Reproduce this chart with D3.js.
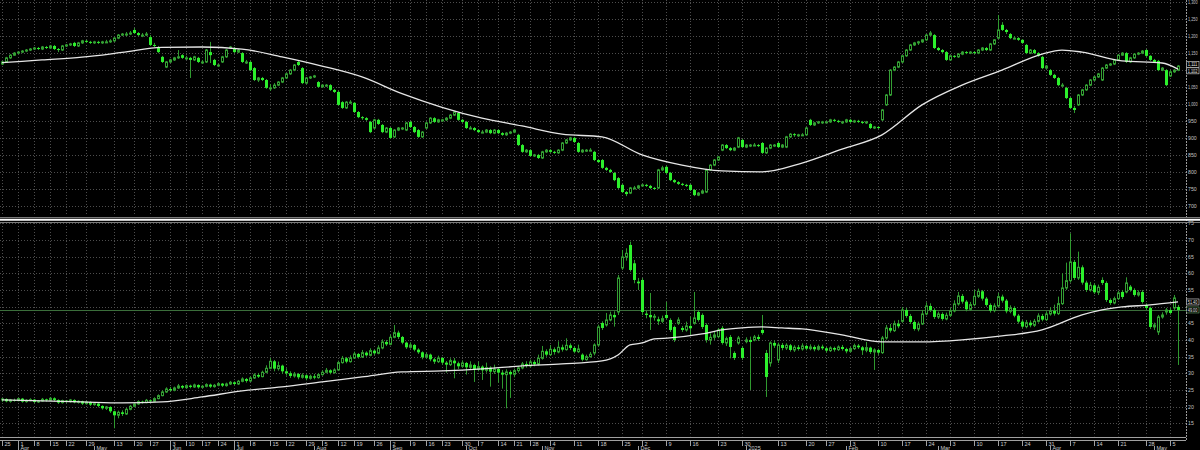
<!DOCTYPE html>
<html><head><meta charset="utf-8">
<script src="https://cdn.jsdelivr.net/npm/d3@7"></script>
<style>html,body{margin:0;padding:0;background:#000;overflow:hidden}svg{display:block}</style>
</head><body><svg id="c" width="1200" height="450"></svg>
<script>
// ---------- DATA ----------
const topOpen = [
1117,1123,1135,1143,1149,1152,1155,1158,1161,1164,
1161,1167,1164,1170,1161,1158,1170,1173,1179,1170,
1179,1185,1182,1179,1182,1179,1182,1182,1185,1193,
1202,1205,1205,1217,1208,1202,1202,1196,1173,1167,
1138,1108,1123,1129,1135,1143,1135,1135,1129,1135,
1123,1123,1152,1129,1114,1123,1138,1164,1164,1152,
1149,1123,1123,1105,1070,1076,1070,1047,1047,1055,
1064,1076,1088,1099,1123,1105,1061,1076,1079,1064,
1050,1055,1055,1041,1035,1005,988,1005,1003,976,
961,958,947,929,953,938,917,929,903,923,
929,923,947,932,923,903,929,944,958,947,
953,953,958,967,973,953,947,929,929,923,
917,917,923,914,923,914,909,914,917,909,
879,859,864,847,850,841,859,864,859,856,
864,885,894,900,885,859,864,864,859,835,
835,812,806,797,782,762,741,738,753,753,
759,762,759,753,753,806,815,797,776,770,
765,762,762,747,732,738,741,806,820,835,
864,879,870,864,873,894,873,879,879,879,
885,856,870,879,885,873,873,903,911,909,
909,909,953,938,944,947,947,947,953,950,
947,947,953,947,950,947,944,941,929,932,
953,997,1026,1099,1108,1123,1141,1158,1173,1179,
1182,1188,1202,1202,1164,1158,1152,1129,1141,1138,
1146,1152,1149,1152,1149,1158,1164,1158,1176,1193,
1232,1217,1205,1193,1193,1188,1173,1149,1158,1149,
1138,1105,1099,1085,1076,1055,1047,1017,988,997,
1026,1041,1055,1070,1079,1070,1105,1114,1117,1129,
1143,1149,1123,1135,1146,1149,1158,1141,1129,1126,
1099,1099,1082,1094,1099];
const topHigh = [
1126,1138,1146,1152,1155,1158,1161,1164,1167,1167,
1170,1170,1173,1173,1164,1173,1176,1179,1182,1182,
1188,1188,1185,1185,1185,1185,1188,1190,1196,1205,
1208,1211,1214,1223,1211,1208,1211,1202,1179,1170,
1141,1126,1132,1138,1158,1146,1141,1138,1141,1138,
1129,1161,1182,1132,1117,1141,1161,1170,1167,1161,
1152,1129,1126,1108,1079,1079,1073,1058,1061,1067,
1079,1091,1102,1117,1126,1108,1079,1082,1085,1067,
1058,1058,1058,1044,1038,1008,1008,1011,1005,979,
964,961,950,956,956,941,932,932,926,932,
932,947,950,935,926,920,947,961,961,956,
956,961,970,979,976,956,950,935,932,926,
923,926,926,926,926,917,917,920,926,912,
882,867,867,853,853,862,867,867,862,867,
888,897,903,903,888,867,867,870,862,838,
838,815,809,800,785,765,744,756,759,762,
765,765,762,756,809,818,818,800,779,773,
768,765,765,750,741,747,809,823,838,847,
882,882,873,873,903,897,882,882,885,882,
888,873,882,882,888,882,906,914,914,912,
914,932,956,947,950,950,950,956,956,953,
950,956,956,953,953,950,950,944,935,935,
985,1029,1102,1111,1126,1143,1161,1176,1182,1185,
1190,1205,1214,1205,1167,1161,1155,1143,1143,1149,
1155,1155,1155,1155,1161,1167,1167,1179,1190,1261,
1240,1220,1208,1199,1196,1190,1176,1161,1161,1152,
1141,1114,1102,1088,1079,1061,1050,1020,994,1029,
1044,1058,1073,1082,1091,1108,1117,1120,1132,1146,
1152,1152,1138,1149,1152,1158,1161,1143,1132,1129,
1108,1102,1099,1102,1114];
const topLow = [
1114,1120,1132,1141,1146,1149,1152,1155,1158,1158,
1158,1161,1161,1158,1152,1155,1167,1170,1167,1167,
1176,1179,1176,1176,1176,1176,1179,1179,1182,1190,
1199,1199,1202,1205,1199,1196,1199,1170,1167,1149,
1120,1105,1120,1126,1132,1132,1129,1076,1126,1120,
1117,1120,1120,1111,1108,1120,1135,1161,1149,1149,
1120,1117,1096,1067,1064,1067,1044,1038,1044,1052,
1061,1073,1085,1096,1111,1058,1058,1073,1076,1047,
1047,1050,1038,1032,994,985,985,1000,973,958,
953,950,914,926,938,914,914,897,900,920,
923,920,929,914,900,900,926,941,944,944,
947,950,955,964,950,944,926,926,920,914,
914,914,911,911,911,906,906,911,914,876,
856,856,844,844,838,838,856,856,853,853,
861,882,891,885,856,856,859,861,832,826,
809,803,797,773,750,738,729,735,750,750,
756,756,750,747,750,803,794,773,767,762,
759,756,744,729,729,735,738,803,817,832,
861,867,861,861,870,870,870,873,876,873,
853,853,867,873,870,870,870,900,903,903,
906,906,935,935,941,941,944,944,947,944,
941,944,944,944,944,941,941,926,926,926,
950,994,1023,1096,1105,1120,1138,1155,1170,1173,
1179,1185,1199,1161,1155,1149,1126,1126,1135,1135,
1143,1146,1146,1146,1146,1155,1155,1155,1173,1190,
1214,1205,1190,1190,1185,1176,1146,1146,1146,1138,
1102,1102,1082,1073,1052,1050,1014,985,973,994,
1023,1038,1052,1067,1076,1067,1102,1111,1114,1126,
1141,1120,1120,1132,1143,1146,1138,1126,1120,1096,
1096,1052,1079,1091,1096];
const topClose = [
1123,1135,1143,1149,1152,1155,1158,1161,1164,1161,
1167,1164,1170,1161,1158,1170,1173,1176,1170,1179,
1185,1182,1179,1182,1179,1182,1182,1185,1193,1202,
1205,1205,1208,1208,1202,1202,1205,1173,1170,1152,
1123,1123,1129,1135,1138,1135,1135,1129,1138,1123,
1123,1158,1143,1114,1114,1138,1158,1167,1152,1158,
1123,1123,1099,1070,1076,1070,1047,1047,1055,1064,
1076,1088,1099,1114,1114,1061,1076,1079,1082,1050,
1055,1055,1041,1035,997,988,1005,1005,976,961,
958,953,917,953,941,917,929,900,923,929,
929,944,932,917,903,917,944,958,947,953,
953,958,967,976,953,947,929,929,923,917,
917,923,914,923,914,909,914,917,923,879,
859,864,847,850,841,859,864,859,856,864,
885,894,900,888,859,864,864,864,835,829,
812,806,800,776,753,741,735,753,753,759,
762,759,753,750,806,812,797,776,770,765,
762,759,747,732,738,744,806,820,835,844,
879,870,864,870,900,873,879,879,879,876,
856,870,879,879,873,879,903,911,909,909,
909,929,938,944,947,947,947,953,950,947,
947,953,947,950,947,944,947,929,932,929,
982,1026,1099,1108,1123,1141,1158,1173,1179,1182,
1188,1202,1208,1164,1158,1152,1129,1141,1138,1146,
1152,1149,1152,1149,1158,1164,1158,1176,1188,1217,
1217,1211,1193,1193,1188,1179,1149,1158,1149,1141,
1105,1111,1085,1076,1055,1055,1017,988,982,1026,
1041,1055,1070,1079,1088,1105,1114,1117,1129,1143,
1149,1123,1135,1146,1149,1155,1141,1129,1123,1099,
1105,1055,1094,1099,1111];
const topMaIdx = [0,10,20,30,40,50,60,70,80,90,100,110,120,130,140,150,160,170,180,190,200,210,220,230,240,250,260,265,270,280,290,294];
const topMa = [1121,1129,1137,1151,1166,1167,1161,1138,1111,1079,1030,990,958,935,911,903,850,820,803,800,826,867,909,997,1055,1099,1146,1158,1152,1126,1120,1102];

const botOpen = [
22.0,22.3,21.6,22.0,21.8,22.4,21.5,21.9,22.1,21.4,
21.7,22.2,21.9,22.5,22.0,21.2,21.8,21.5,22.0,21.3,
21.6,20.9,21.4,20.6,20.9,20.2,19.5,19.9,18.6,17.4,
18.3,17.8,19.2,20.1,20.8,21.5,21.2,21.9,21.6,22.4,
23.3,24.4,25.3,24.9,25.6,26.2,25.7,26.3,25.9,26.5,
25.8,26.1,26.6,26.0,26.4,26.9,26.3,26.8,27.3,26.8,
27.6,28.3,27.7,28.6,29.5,29.0,30.3,31.5,33.6,31.4,
32.3,30.6,30.0,29.2,29.8,28.8,29.4,28.5,29.1,28.7,
29.6,30.3,30.9,30.2,31.0,33.2,34.5,33.5,34.6,35.8,
34.9,36.2,35.4,36.8,36.0,37.6,39.4,38.7,40.8,42.2,
40.9,39.2,37.8,38.5,37.1,36.3,34.8,35.6,34.2,33.5,
34.6,33.2,32.6,33.8,33.0,32.1,33.1,31.8,32.5,31.2,
32.0,30.9,31.7,30.5,31.3,30.2,29.6,30.4,29.7,30.8,
31.6,32.8,32.2,33.4,32.7,34.5,36.6,35.6,37.2,36.4,
37.8,37.1,38.4,37.6,36.5,35.6,34.1,35.0,36.1,38.5,
45.1,44.5,46.0,47.5,48.4,61.6,64.9,68.5,63.0,57.5,
58.0,47.9,47.5,46.9,46.2,45.6,47.5,46.0,43.9,45.0,
43.6,43.0,44.2,45.0,48.4,47.5,44.5,40.0,40.8,41.0,
43.6,39.1,40.9,36.1,39.1,37.6,39.5,40.0,40.0,40.9,
43.0,36.1,33.1,39.1,34.0,38.5,37.6,38.4,37.0,37.8,
37.3,38.2,37.4,37.9,37.2,38.0,37.5,36.8,37.6,37.1,
37.9,37.3,36.6,37.4,38.3,37.8,36.9,37.7,36.4,37.0,
36.2,40.6,43.6,42.8,44.9,45.6,49.0,47.2,45.4,43.3,
44.8,47.8,50.2,49.0,46.9,47.8,46.3,47.4,48.7,50.8,
53.2,51.5,49.2,50.6,53.1,54.6,52.4,50.5,48.8,50.2,
53.0,51.8,48.6,49.6,47.3,45.5,44.0,45.2,44.4,45.6,
47.2,46.1,47.8,48.7,47.9,50.9,55.6,57.8,63.4,58.6,
61.8,57.2,55.0,56.4,54.3,58.0,57.1,52.0,51.1,52.4,
54.4,54.4,56.0,55.0,53.5,54.4,50.5,49.6,43.9,42.4,
46.9,48.4,49.0,49.6,49.9];
const botHigh = [
22.6,22.5,22.3,22.4,22.7,22.6,22.2,22.5,22.3,22.0,
22.6,22.4,22.9,22.8,22.2,22.1,22.0,22.3,22.2,21.9,
21.8,21.7,21.6,21.2,21.1,20.4,20.2,20.1,18.8,18.8,
18.9,19.6,20.5,21.2,21.9,21.8,22.3,22.2,22.8,23.7,
24.9,25.8,25.9,26.0,26.8,26.5,26.7,26.6,26.9,26.7,
26.5,27.0,26.9,26.8,27.3,27.1,27.2,27.7,27.6,28.0,
28.8,28.6,29.1,30.0,30.1,30.8,32.4,34.6,34.0,33.5,
32.6,31.5,30.6,30.4,30.1,30.0,29.7,29.6,29.8,30.1,
30.9,31.6,31.2,31.5,33.8,35.2,34.9,35.4,36.5,36.1,
37.0,36.6,37.5,37.1,38.4,40.2,40.0,41.6,44.5,42.8,
41.2,39.5,39.3,38.8,37.5,36.6,36.2,35.9,34.7,35.3,
34.9,33.7,34.5,34.6,33.5,33.9,33.4,33.6,32.9,33.5,
32.4,33.2,32.1,32.6,31.7,31.0,31.2,30.9,31.4,32.2,
33.4,33.6,34.1,33.9,35.6,38.2,37.2,38.5,37.8,39.6,
38.6,40.5,39.0,38.1,38.6,36.0,35.6,36.4,39.0,44.6,
45.6,48.1,48.5,48.6,59.5,67.0,67.5,69.5,64.0,58.6,
58.6,48.8,54.1,47.8,47.0,47.3,51.4,46.5,44.3,46.8,
44.2,45.5,47.0,54.4,49.0,48.0,45.0,42.0,42.7,43.6,
44.2,41.0,41.5,36.6,41.2,38.2,40.8,41.0,41.5,41.6,
47.5,37.0,39.6,39.9,39.2,39.1,39.0,38.8,38.4,38.5,
39.0,38.6,38.7,38.4,38.6,38.6,37.9,38.1,38.0,38.4,
38.5,37.7,37.9,38.9,38.8,38.2,39.4,38.0,37.5,37.4,
41.2,44.5,44.8,45.8,46.0,49.9,49.6,47.8,45.9,45.5,
49.0,51.3,51.0,49.5,48.5,48.3,48.2,49.6,51.9,54.4,
53.8,52.0,51.4,55.0,55.4,55.0,52.9,51.0,51.0,54.1,
53.6,52.3,50.4,50.1,47.8,46.0,46.0,45.9,46.3,48.0,
47.8,48.6,49.8,50.6,53.0,60.0,63.2,72.0,64.0,66.5,
62.4,57.8,57.4,57.0,56.6,58.8,57.6,52.5,53.0,54.8,
55.0,58.8,56.5,55.5,54.9,55.0,51.0,50.0,45.2,47.5,
48.3,49.6,49.6,53.5,50.5];
const botLow = [
21.4,21.3,21.2,21.5,21.6,21.2,21.2,21.6,21.0,21.1,
21.5,21.5,21.7,21.6,20.8,20.9,21.1,21.2,21.0,20.9,
20.5,20.6,20.2,20.3,19.8,19.1,19.0,18.1,13.5,16.5,
17.2,17.5,18.9,19.8,20.5,20.9,21.0,21.3,21.4,22.2,
23.1,24.1,24.5,24.6,25.3,25.3,25.4,25.5,25.6,25.4,
25.5,25.8,25.6,25.7,26.1,25.9,26.0,26.5,26.4,26.5,
27.3,27.2,27.4,28.3,28.6,28.8,30.0,31.2,30.6,30.8,
29.8,29.3,28.6,28.7,28.2,28.4,27.9,28.1,28.2,28.4,
29.3,30.0,29.7,29.9,30.8,32.9,33.0,33.2,34.3,34.4,
34.6,35.0,35.1,35.5,35.7,37.2,38.2,38.4,40.5,40.3,
38.7,37.3,37.4,36.6,35.8,34.2,34.4,33.6,32.8,33.1,
32.5,30.2,32.2,28.5,31.3,31.7,29.6,31.3,27.4,30.6,
28.0,30.2,26.0,29.8,27.2,25.4,19.5,22.6,28.8,30.2,
31.2,31.7,31.8,32.1,32.3,34.1,35.0,35.2,35.6,36.0,
36.5,36.8,37.0,36.0,36.1,33.6,33.8,34.7,35.4,38.0,
43.0,44.0,45.6,44.0,47.5,61.0,63.8,60.5,57.0,55.0,
47.5,46.5,43.0,45.8,44.5,45.1,46.2,42.4,39.4,44.5,
42.4,42.5,41.5,44.6,45.5,43.3,39.2,38.6,40.0,40.5,
38.6,38.2,34.5,34.0,38.6,34.0,39.0,25.0,39.6,39.7,
41.6,22.9,32.0,37.6,33.1,36.9,37.0,36.5,36.4,36.8,
36.8,36.9,36.9,36.6,36.8,37.0,36.2,36.4,36.5,36.7,
36.8,36.0,36.2,37.0,37.3,35.5,36.3,35.8,31.0,35.5,
35.8,40.1,42.2,42.4,43.5,45.2,46.6,44.8,42.8,42.6,
44.5,47.4,48.4,46.3,46.3,45.8,45.9,46.9,48.3,50.3,
50.9,48.6,48.8,50.1,52.6,51.8,50.0,48.2,48.3,49.8,
51.2,48.0,48.0,46.8,44.9,43.4,43.5,43.8,43.9,45.2,
45.6,45.7,47.3,47.3,47.5,50.5,55.0,57.2,58.0,58.0,
56.6,54.4,54.5,53.8,53.5,56.5,51.4,50.5,50.7,52.0,
52.3,54.0,54.5,53.0,53.0,50.9,49.0,43.3,43.0,41.5,
46.4,47.6,47.6,49.0,32.5];
const botClose = [
22.3,21.6,22.0,21.8,22.4,21.5,21.9,22.1,21.4,21.7,
22.2,21.9,22.5,22.0,21.2,21.8,21.5,22.0,21.3,21.6,
20.9,21.4,20.6,20.9,20.2,19.5,19.9,18.6,17.4,18.3,
17.8,19.2,20.1,20.8,21.5,21.2,21.9,21.6,22.4,23.3,
24.4,25.3,24.9,25.6,26.2,25.7,26.3,25.9,26.5,25.8,
26.1,26.6,26.0,26.4,26.9,26.3,26.8,27.3,26.8,27.6,
28.3,27.7,28.6,29.5,29.0,30.3,31.5,33.6,31.4,32.3,
30.6,30.0,29.2,29.8,28.8,29.4,28.5,29.1,28.7,29.6,
30.3,30.9,30.2,31.0,33.2,34.5,33.5,34.6,35.8,34.9,
36.2,35.4,36.8,36.0,37.6,39.4,38.7,40.8,42.2,40.9,
39.2,37.8,38.5,37.1,36.3,34.8,35.6,34.2,33.5,34.6,
33.2,32.6,33.8,33.0,32.1,33.1,31.8,32.5,31.2,32.0,
30.9,31.7,30.5,31.3,30.2,29.6,30.4,29.7,30.8,31.6,
32.8,32.2,33.4,32.7,34.5,36.6,35.6,37.2,36.4,37.8,
37.1,38.4,37.6,36.5,37.3,34.1,35.0,35.7,38.5,43.9,
43.6,46.0,47.5,46.8,58.6,64.9,66.0,61.0,58.0,57.0,
48.4,47.5,46.8,47.1,45.6,46.4,46.6,43.0,40.0,46.0,
43.0,44.2,43.5,46.6,46.0,43.9,40.0,40.8,41.5,43.0,
39.1,40.4,37.9,34.6,40.6,34.6,40.0,39.4,40.9,40.3,
42.1,28.9,39.1,38.3,38.5,37.6,38.4,37.0,37.8,37.3,
38.2,37.4,37.9,37.2,38.0,37.5,36.8,37.6,37.1,37.9,
37.3,36.6,37.4,38.3,37.8,36.9,37.7,36.4,37.0,36.2,
40.6,43.6,42.8,44.9,44.1,49.0,47.2,45.4,43.3,44.8,
47.8,50.2,49.0,46.9,47.8,46.3,47.4,48.7,50.8,53.2,
51.5,49.2,50.6,53.1,54.6,52.4,50.5,48.8,50.2,53.0,
51.8,48.6,49.6,47.3,45.5,44.0,45.2,44.4,45.6,47.2,
46.1,47.8,48.7,47.9,50.9,55.6,57.8,63.4,58.6,61.8,
57.2,55.0,56.4,54.3,55.8,57.1,52.0,51.1,52.4,54.1,
52.9,57.1,55.0,53.5,54.2,51.4,49.6,43.9,44.5,46.9,
47.5,49.0,48.1,52.6,49.0];
const botMaIdx = [0,10,20,30,40,50,60,70,80,90,100,110,120,130,140,150,154,157,160,163,167,175,180,185,190,195,200,210,220,230,240,250,260,270,275,280,287,294];
const botMa = [22.0,21.7,21.4,21.1,21.4,22.9,24.7,25.9,27.4,28.9,30.4,30.7,31.3,32.2,32.8,33.7,35.5,38.5,39.1,40.3,40.6,41.8,43.0,43.6,43.9,43.6,43.3,41.5,39.4,39.4,40.0,41.2,43.0,47.5,49.0,49.9,50.5,51.4];

const topTicks = [700,750,800,850,900,950,1000,1050,1100,1150,1200,1250,1300];
const botTicks = [15,20,25,30,35,40,45,50,55,60,65,70,75];
const weekTickIdx = [0,4,8,12,16,21,28,33,37,42,46,50,54,58,62,67,71,76,80,84,88,93,97,102,106,110,115,119,124,128,132,137,143,149,155,160,166,172,179,185,194,201,206,212,219,225,231,237,243,249,255,261,267,273,279,286,292];
const weekTickLabels = ["25","1","8","15","22","29","13","20","27","3","10","17","24","1","8","15","22","29","5","12","19","26","2","9","16","23","30","7","14","21","28","4","11","18","25","2","9","16","23","30","13","20","27","3","10","17","24","3","10","17","24","31","7","14","21","28","5"];
const monthIdx = [4,23,42,58,78,97,116,135,159,186,211,234,262,288];
const monthLabels = ["Apr","May","Jun","Jul","Aug","Sep","Oct","Nov","Dec","2025","Feb","Mar","Apr","May"];

// ---------- DRAW ----------
const W = 1200, H = 450, AX = 1186;
const FONT = "'Liberation Sans Narrow', 'Liberation Sans', Arial, sans-serif";
const svg = d3.select('#c');
svg.append('rect').attr('width', W).attr('height', H).attr('fill', '#000');
const defs = svg.append('defs');

const N = topClose.length;
const x = d3.scaleLinear().domain([0, N - 1]).range([2, 1178]);
const px = i => Math.round(x(i)) + 0.5;

const panels = [
  {id:'top', y0:0, y1:215, y:d3.scaleLinear().domain([700,1300]).range([206,1.7]),
   ticks:topTicks, fmt:d3.format(','), O:topOpen, Hh:topHigh, L:topLow, C:topClose,
   maIdx:topMaIdx, ma:topMa, tagFmt:d3.format(','), hline:false},
  {id:'bot', y0:223, y1:436.5, y:d3.scaleLinear().domain([15,75]).range([423.3,223.3]),
   ticks:botTicks, fmt:d3.format('d'), O:botOpen, Hh:botHigh, L:botLow, C:botClose,
   maIdx:botMaIdx, ma:botMa, tagFmt:d3.format('.2f'), hline:true}
];

const UP = '#34a034', DOWN = '#2cf02c', WICK = '#2f9a2f';
const fitText = (sel, maxW) => sel.each(function() {
  if (this.getComputedTextLength() > maxW)
    d3.select(this).attr('textLength', maxW).attr('lengthAdjust', 'spacingAndGlyphs');
});

panels.forEach(p => {
  defs.append('clipPath').attr('id', 'clip-' + p.id)
    .append('rect').attr('x', 0).attr('y', p.y0).attr('width', AX).attr('height', p.y1 - p.y0);
  const g = svg.append('g').attr('clip-path', `url(#clip-${p.id})`);

  g.selectAll('line.hg').data(p.ticks).join('line')
    .attr('x1', 0).attr('x2', AX)
    .attr('y1', d => Math.round(p.y(d)) + 0.5).attr('y2', d => Math.round(p.y(d)) + 0.5)
    .attr('stroke', '#4d4d4d').attr('stroke-width', 1).attr('stroke-dasharray', '1,2');
  g.selectAll('line.vg').data(weekTickIdx).join('line')
    .attr('x1', d => px(d)).attr('x2', d => px(d))
    .attr('y1', p.y0).attr('y2', p.y1)
    .attr('stroke', '#4d4d4d').attr('stroke-width', 1).attr('stroke-dasharray', '1,2');

  if (p.hline) {
    const yy = Math.round(p.y(p.C[N - 1])) + 0.5;
    g.append('line').attr('x1', 0).attr('x2', AX).attr('y1', yy).attr('y2', yy)
      .attr('stroke', '#3b6e3b').attr('stroke-width', 1);
  }

  const idx = d3.range(N);
  g.selectAll('line.wick').data(idx).join('line')
    .attr('x1', i => px(i)).attr('x2', i => px(i))
    .attr('y1', i => p.y(p.Hh[i])).attr('y2', i => p.y(p.L[i]))
    .attr('stroke', WICK).attr('stroke-width', 1);
  g.selectAll('rect.body').data(idx).join('rect')
    .each(function(i) {
      const o = p.O[i], c = p.C[i];
      const yT = p.y(Math.max(o, c)), yB = p.y(Math.min(o, c));
      const h = Math.max(1, yB - yT);
      const r = d3.select(this);
      if (c >= o) {
        r.attr('x', px(i) - 1).attr('width', 2).attr('y', yT).attr('height', h)
         .attr('fill', '#000').attr('stroke', UP).attr('stroke-width', 1);
      } else {
        r.attr('x', px(i) - 1.5).attr('width', 3).attr('y', yT).attr('height', h)
         .attr('fill', DOWN).attr('stroke', 'none');
      }
    });

  const line = d3.line().x(d => x(d[0])).y(d => p.y(d[1])).curve(d3.curveMonotoneX);
  g.append('path').datum(p.maIdx.map((d, k) => [d, p.ma[k]]))
    .attr('d', line).attr('fill', 'none').attr('stroke', '#e6e6e6').attr('stroke-width', 1.3);

  const tags = [
    {v: p.C[N - 1], stroke: p.hline ? '#6fae6f' : '#e0e0e0'},
    {v: p.ma[p.ma.length - 1], stroke: '#e0e0e0'}
  ].map(t => Object.assign(t, {yy: p.y(t.v)})).sort((a, b) => a.yy - b.yy);
  if (tags[1].yy - tags[0].yy < 6.5) {
    const mid = (tags[0].yy + tags[1].yy) / 2;
    tags[0].yy = mid - 3.25; tags[1].yy = mid + 3.25;
  }

  const visTicks = p.ticks.filter(d => tags.every(t => Math.abs(p.y(d) - t.yy) > 5.5));
  svg.selectAll('text.r' + p.id).data(visTicks).join('text')
    .attr('x', AX + 2).attr('y', d => p.y(d) + 2)
    .attr('fill', '#c4c4c4').attr('font-family', FONT).attr('font-size', '5.2px')
    .text(d => p.fmt(d))
    .call(fitText, 9.5);

  tags.forEach(t => {
    svg.append('rect').attr('x', AX + 0.5).attr('y', t.yy - 3).attr('width', 12.5).attr('height', 6)
      .attr('fill', '#000').attr('stroke', t.stroke).attr('stroke-width', 0.6);
    svg.append('text').attr('x', AX + 1.8).attr('y', t.yy + 1.9)
      .attr('fill', '#e8e8e8').attr('font-family', FONT).attr('font-size', '4.8px')
      .text(p.tagFmt(t.v))
      .call(fitText, 9.5);
  });
});

svg.append('line').attr('x1', AX + 0.5).attr('x2', AX + 0.5).attr('y1', 0).attr('y2', 441)
  .attr('stroke', '#9a9a9a').attr('stroke-width', 1).attr('stroke-dasharray', '2,1');

[[217.5, '#7a7a7a', 1], [219.8, '#ffffff', 2], [222.5, '#7a7a7a', 1]].forEach(([yy, col, w]) => {
  svg.append('line').attr('x1', 0).attr('x2', W).attr('y1', yy).attr('y2', yy)
    .attr('stroke', col).attr('stroke-width', w);
});

[437.5, 440.5].forEach(yy => {
  svg.append('line').attr('x1', 0).attr('x2', AX).attr('y1', yy).attr('y2', yy)
    .attr('stroke', '#a0a0a0').attr('stroke-width', 1);
});
const ax = svg.append('g');
ax.selectAll('line.wt').data(weekTickIdx).join('line')
  .attr('x1', d => px(d)).attr('x2', d => px(d)).attr('y1', 441).attr('y2', 446)
  .attr('stroke', '#a0a0a0').attr('stroke-width', 1);
ax.selectAll('text.wt').data(weekTickIdx).join('text')
  .attr('x', d => px(d) + 2).attr('y', 445.6)
  .attr('fill', '#cfcfcf').attr('font-family', FONT).attr('font-size', '5.5px')
  .text((d, k) => weekTickLabels[k]);
ax.selectAll('line.mt').data(monthIdx).join('line')
  .attr('x1', d => px(d)).attr('x2', d => px(d)).attr('y1', 446).attr('y2', 450)
  .attr('stroke', '#a0a0a0').attr('stroke-width', 1);
ax.selectAll('text.mt').data(monthIdx).join('text')
  .attr('x', d => px(d) + 2).attr('y', 449.8)
  .attr('fill', '#cfcfcf').attr('font-family', FONT).attr('font-size', '5.5px')
  .text((d, k) => monthLabels[k]);
</script></body></html>
